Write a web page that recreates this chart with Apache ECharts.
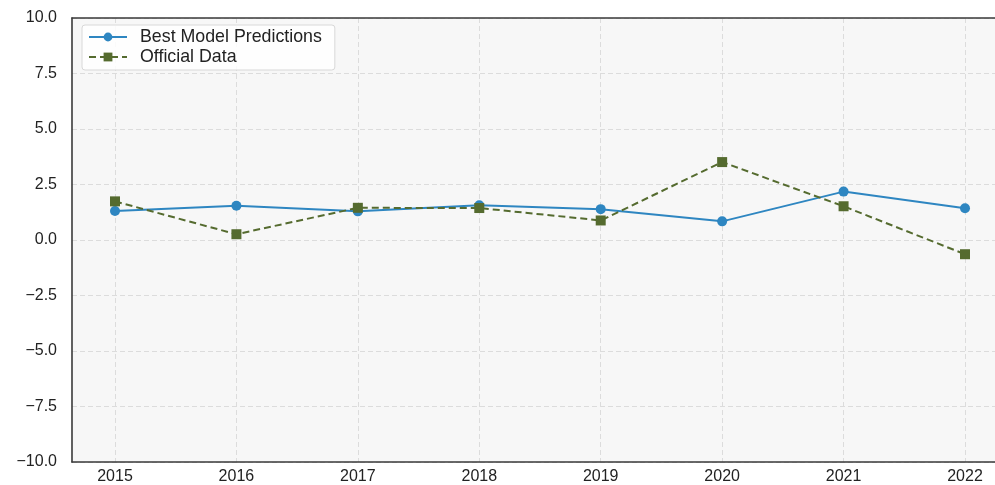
<!DOCTYPE html>
<html>
<head>
<meta charset="utf-8">
<script src="https://cdn.jsdelivr.net/npm/echarts@6/dist/echarts.min.js"></script>
<style>html,body{margin:0;padding:0;background:#fff}#c{width:995px;height:485px}</style>
</head>
<body>
<div id="c"></div>
<script>
const years = [2015, 2016, 2017, 2018, 2019, 2020, 2021, 2022];
const predictions = [1.31, 1.54, 1.29, 1.56, 1.39, 0.84, 2.18, 1.43];
const official = [1.74, 0.26, 1.45, 1.44, 0.88, 3.51, 1.52, -0.64];
const yTicks = [-10, -7.5, -5, -2.5, 0, 2.5, 5, 7.5, 10];

const FONT = 'Liberation Sans, Arial, sans-serif';
const chart = echarts.init(document.getElementById('c'), null, {renderer: 'canvas'});
const fmtY = v => (v < 0 ? '\u2212' : '') + Math.abs(v).toFixed(1);
const dashGrid = {color: '#dcdcdc', type: [5, 3], width: 1};
chart.setOption({
  animation: false,
  backgroundColor: '#ffffff',
  grid: {
    left: 72, top: 18, right: 0, bottom: 23,
    show: true, backgroundColor: '#f7f7f7', borderWidth: 0
  },
  legend: {
    left: 82, top: 25, orient: 'vertical',
    itemWidth: 38, itemHeight: 11, itemGap: 2,
    padding: [3, 13, 4, 6],
    backgroundColor: 'rgba(255,255,255,0.85)', borderColor: '#d8d8d8', borderWidth: 1, borderRadius: 3,
    textStyle: {fontFamily: FONT, fontSize: 17.8, color: '#222', padding: [0, 0, 0, 8]},
    data: ['Best Model Predictions', 'Official Data']
  },
  xAxis: [
    {
      type: 'value', min: 2014.646, max: 2022.247,
      axisLine: {show: true, onZero: false, lineStyle: {color: '#3a3a3a', width: 1.6}},
      axisTick: {show: false, customValues: years},
      axisLabel: {
        customValues: years,
        color: '#222', fontSize: 16, fontFamily: FONT, margin: 7,
        formatter: v => String(Math.round(v))
      },
      splitLine: {show: true, lineStyle: dashGrid}
    },
    {
      type: 'value', position: 'top', min: 2014.646, max: 2022.247,
      axisLine: {show: true, onZero: false, lineStyle: {color: '#3a3a3a', width: 1.6}},
      axisTick: {show: false}, axisLabel: {show: false}, splitLine: {show: false}
    }
  ],
  yAxis: {
    type: 'value', min: yTicks[0], max: yTicks[yTicks.length - 1], interval: 2.5,
    axisLine: {show: true, lineStyle: {color: '#3a3a3a', width: 1.6}},
    axisTick: {show: false},
    axisLabel: {color: '#222', fontSize: 16, fontFamily: FONT, margin: 15, formatter: fmtY},
    splitLine: {show: true, lineStyle: dashGrid}
  },
  series: [
    {
      name: 'Best Model Predictions', type: 'line',
      data: years.map((y, i) => [y, predictions[i]]),
      symbol: 'circle', symbolSize: 10,
      itemStyle: {color: '#2e86c1'},
      lineStyle: {color: '#2e86c1', width: 2}
    },
    {
      name: 'Official Data', type: 'line',
      data: years.map((y, i) => [y, official[i]]),
      symbol: 'rect', symbolSize: 10,
      itemStyle: {color: '#556b2f'},
      lineStyle: {color: '#556b2f', width: 2, type: [7, 4]}
    }
  ]
});
</script>
</body>
</html>
